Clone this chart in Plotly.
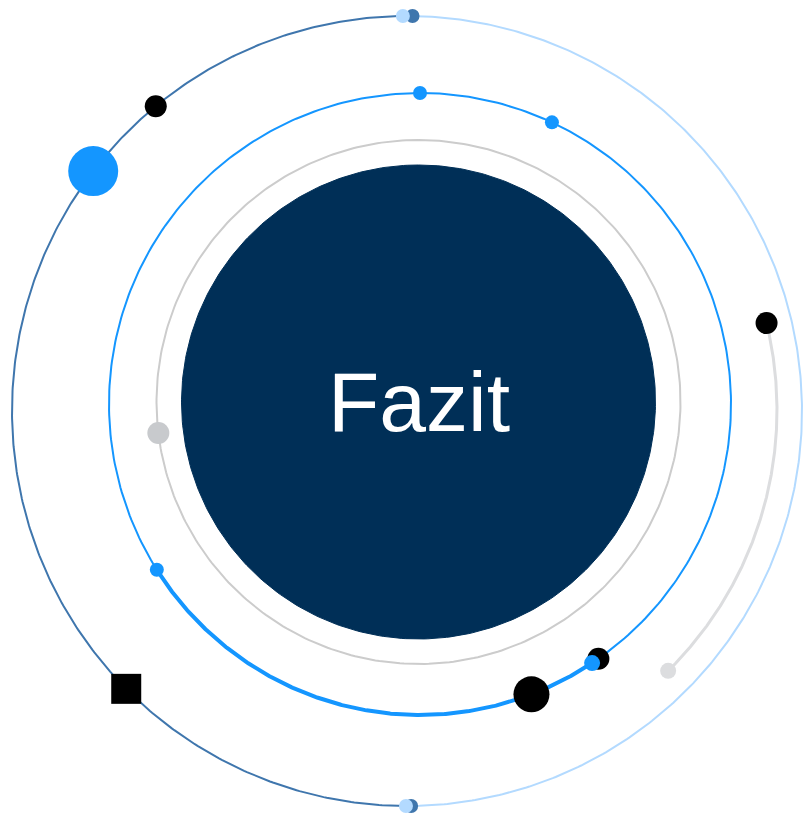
import numpy as np
import plotly.graph_objects as go

# ---- data ----
title_text = "Fazit"
# rings: center x, center y (pixel space), radius
ring_names = ["outer", "blue", "gray", "core", "arc"]
ring_cx = [407, 420, 418.5, 418.5, 410]
ring_cy = [411, 404, 402, 402, 410]
ring_r = [395, 311, 262, 237, 367]

# outer ring halves (compass degrees)
outer_dark_span = [180, 360]
outer_light_span = [0, 180]
blue_thick_span = [146.4, 237.8]
gray_arc_span = [74.6, 135.3]

# dots: ring, angle (deg, clockwise from top), diameter, color, symbol
dot_ring = ["outer", "outer", "outer", "outer", "outer", "outer", "outer",
            "blue", "blue", "blue", "blue", "blue", "blue", "gray", "arc", "arc"]
dot_angle = [0.8, -0.6, 179.4, 180.15, 320.5, 307.4, 225.3,
             0.0, 25.1, 159.0, 145.0, 237.8, 146.4, 263.2, 76.3, 135.3]
dot_size = [14, 14, 14, 14, 22, 50, 30,
            14, 14, 36, 22, 14, 16, 22, 22, 16]
dot_color = ["#3f76ad", "#b3daff", "#3f76ad", "#b3daff", "#000000", "#1496ff", "#000000",
             "#1496ff", "#1496ff", "#000000", "#000000", "#1496ff", "#1496ff", "#c8cacd", "#000000", "#dcdddf"]
dot_symbol = ["circle"] * 6 + ["square"] + ["circle"] * 9


def ring_xy(name, a0, a1, n=400):
    i = ring_names.index(name)
    t = np.radians(np.linspace(a0, a1, n))
    return ring_cx[i] + ring_r[i] * np.sin(t), ring_cy[i] - ring_r[i] * np.cos(t)


fig = go.Figure()

# core filled circle
x, y = ring_xy("core", 0, 360)
fig.add_trace(go.Scatter(x=x, y=y, mode="lines", fill="toself", fillcolor="#002f57",
                         line=dict(color="#002f57", width=1), hoverinfo="skip"))
# gray ring
x, y = ring_xy("gray", 0, 360)
fig.add_trace(go.Scatter(x=x, y=y, mode="lines", line=dict(color="#cccccc", width=2), hoverinfo="skip"))
# blue ring thin + thick arc
x, y = ring_xy("blue", 0, 360)
fig.add_trace(go.Scatter(x=x, y=y, mode="lines", line=dict(color="#1496ff", width=2), hoverinfo="skip"))
x, y = ring_xy("blue", *blue_thick_span)
fig.add_trace(go.Scatter(x=x, y=y, mode="lines", line=dict(color="#1496ff", width=4), hoverinfo="skip"))
# outer ring halves
x, y = ring_xy("outer", *outer_light_span)
fig.add_trace(go.Scatter(x=x, y=y, mode="lines", line=dict(color="#b3daff", width=2), hoverinfo="skip"))
x, y = ring_xy("outer", *outer_dark_span)
fig.add_trace(go.Scatter(x=x, y=y, mode="lines", line=dict(color="#3f76ad", width=2), hoverinfo="skip"))
# gray arc
x, y = ring_xy("arc", *gray_arc_span)
fig.add_trace(go.Scatter(x=x, y=y, mode="lines", line=dict(color="#dcdddf", width=3), hoverinfo="skip"))

# dots
dx, dy = [], []
for rn, a in zip(dot_ring, dot_angle):
    px, py = ring_xy(rn, a, a, 1)
    dx.append(px[0]); dy.append(py[0])
order = [15, 14, 0, 1, 2, 3, 4, 5, 6, 7, 8, 9, 10, 11, 12, 13]
fig.add_trace(go.Scatter(
    x=[dx[k] for k in order], y=[dy[k] for k in order], mode="markers",
    marker=dict(size=[dot_size[k] for k in order], color=[dot_color[k] for k in order],
                symbol=[dot_symbol[k] for k in order], line=dict(width=0), opacity=1),
    hoverinfo="skip"))

i = ring_names.index("core")
fig.add_annotation(x=ring_cx[i], y=ring_cy[i], text=title_text, showarrow=False,
                   font=dict(family="Liberation Sans, Arial, sans-serif", size=84, color="#ffffff"),
                   xanchor="center", yanchor="middle")

fig.update_layout(
    width=805, height=817, margin=dict(l=0, r=0, t=0, b=0),
    paper_bgcolor="#ffffff", plot_bgcolor="#ffffff", showlegend=False,
    xaxis=dict(range=[0, 805], visible=False, fixedrange=True),
    yaxis=dict(range=[817, 0], visible=False, fixedrange=True),
)
fig.write_html("out.html", config={"displayModeBar": False},
               post_script="document.body.style.margin='0';document.body.style.overflow='hidden';")
